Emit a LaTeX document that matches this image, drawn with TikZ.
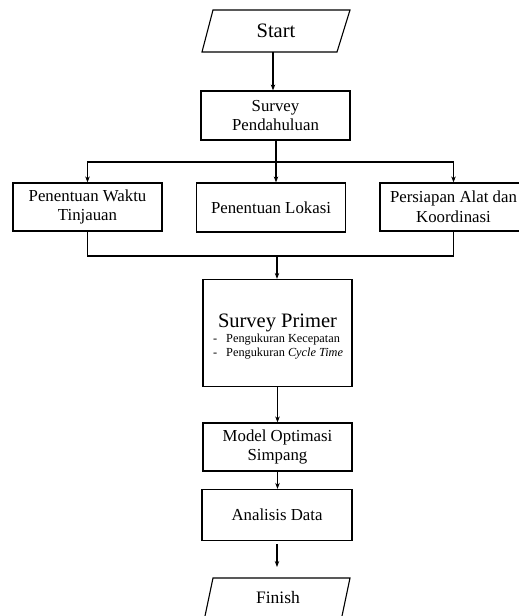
\documentclass[tikz,border=0pt]{standalone}
\usepackage{fontspec}
\setmainfont{Liberation Serif}
\usetikzlibrary{arrows.meta}
\begin{document}
\begin{tikzpicture}[x=1pt,y=-1pt,
  box/.style={draw, line width=1.2pt, align=center, inner sep=0pt,
    font=\fontsize{16.8}{19.5}\selectfont},
  arr/.style={-{Stealth[length=6pt,width=4.5pt]}, line width=1.1pt},
  ln/.style={line width=1.1pt},
  lbl/.style={inner sep=0pt}]
\clip (0,0) rectangle (519,616);
\fill[white] (0,0) rectangle (519,616);
% Start
\coordinate (s1) at (202,52); \coordinate (s2) at (213,10);
\coordinate (s3) at (350,10); \coordinate (s4) at (337,52);
\draw[ln] (s1) -- (s2) -- (s3) -- (s4) -- cycle;
\node[lbl, font=\fontsize{20.5}{24}\selectfont] (start) at (276,31) {Start};
\coordinate (startb) at (273,52);
% boxes
\node[box, minimum width=149pt, minimum height=49pt] (sp) at (275.5,115.5) {Survey\\Pendahuluan};
\node[box, minimum width=149pt, minimum height=48pt] (wt) at (87.5,207) {Penentuan Waktu\\Tinjauan};
\node[box, minimum width=149pt, minimum height=49pt] (lok) at (271,207.5) {Penentuan Lokasi};
\node[box, minimum width=147pt, minimum height=48pt] (alat) at (453.5,207) {Persiapan Alat dan\\Koordinasi};
\node[box, minimum width=149pt, minimum height=107pt] (sprim) at (277.5,333) {};
\node[lbl, anchor=base, font=\fontsize{20.5}{24}\selectfont] (sptitle) at (277.5,327) {Survey Primer};
\node[lbl, anchor=base west, font=\fontsize{12.3}{14}\selectfont] (d1) at (213,342) {-};
\node[lbl, anchor=base west, font=\fontsize{12.3}{14}\selectfont] (b1) at (226,342) {Pengukuran Kecepatan};
\node[lbl, anchor=base west, font=\fontsize{12.3}{14}\selectfont] (d2) at (213,356) {-};
\node[lbl, anchor=base west, font=\fontsize{12.3}{14}\selectfont] (b2) at (226,356) {Pengukuran \textit{Cycle Time}};
\node[box, minimum width=149pt, minimum height=48pt] (mos) at (277.5,447) {Model Optimasi\\Simpang};
\node[box, minimum width=150pt, minimum height=51pt] (ad) at (277,515) {Analisis Data};
% Finish
\coordinate (f1) at (205,616); \coordinate (f2) at (213,578);
\coordinate (f3) at (350,578); \coordinate (f4) at (342,616);
\draw[ln] (f1) -- (f2) -- (f3) -- (f4);
\node[lbl, font=\fontsize{17.5}{20}\selectfont] (fin) at (278,598) {Finish};
\coordinate (fintop) at (277,578);
% connectors
\draw[arr] (startb) -- (startb |- sp.north);
\coordinate (j1) at (276,162);
\draw[ln] (sp.south -| j1) -- (j1);
\draw[arr] (j1) -| (wt.north);
\draw[arr] (j1) -| (alat.north);
\draw[arr] (j1) -- (j1 |- lok.north);
\coordinate (j2) at (277,256);
\draw[ln] (wt.south) |- (j2);
\draw[ln] (alat.south) |- (j2);
\draw[arr] (j2) -- (j2 |- sprim.north);
\draw[arr] (sprim.south) -- (mos.north);
\draw[arr] (mos.south) -- (mos.south |- ad.north);
\draw[arr, shorten <=3pt, shorten >=11pt] (ad.south) -- (fintop);
\end{tikzpicture}
\end{document}
